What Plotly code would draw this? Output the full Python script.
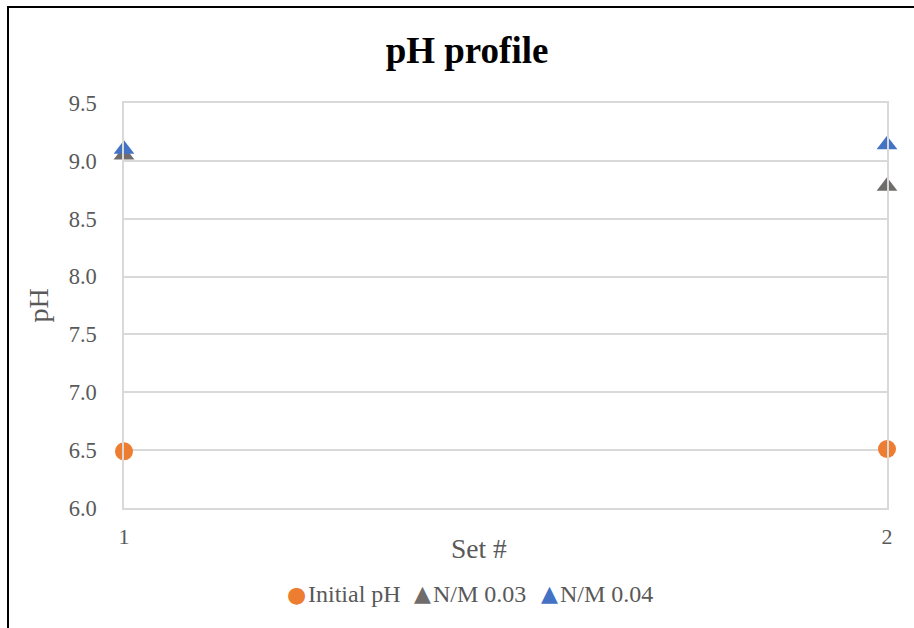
import plotly.graph_objects as go

# Data
sets = [1, 2]
initial_ph = [6.49, 6.51]
nm_003 = [9.05, 8.78]
nm_004 = [9.10, 9.14]
y_ticks = [6.0, 6.5, 7.0, 7.5, 8.0, 8.5, 9.0, 9.5]
series_names = ["Initial pH", "N/M 0.03", "N/M 0.04"]
series_colors = ["#ED7D31", "#706C6C", "#4472C4"]
series_glyphs = ["●", "▲", "▲"]

FONT = "Liberation Serif"
TXT = "#595959"
GRID = "#D9D9D9"

fig = go.Figure()
for vals, name, color, sym in zip(
        [initial_ph, nm_003, nm_004], series_names, series_colors,
        ["circle", "triangle-up", "triangle-up"]):
    fig.add_trace(go.Scatter(x=sets, y=vals, mode="markers", name=name,
                             marker=dict(symbol=sym, size=18, color=color),
                             cliponaxis=False, showlegend=False))

L, R, T, B = 124, 27, 103, 120
W, H = 914, 628
pw, ph = W - L - R, H - T - B

def px_x(x):
    return (x - L) / pw

def px_y(y):
    return (H - B - y) / ph

# Legend row: a coloured glyph followed by the series name
glyph_cx = [296, 422, 549]
text_x = [306, 431, 558]
annotations = []
for gx, tx, name, color, glyph in zip(glyph_cx, text_x, series_names,
                                      series_colors, series_glyphs):
    annotations.append(dict(
        xref="paper", yref="paper", x=px_x(gx), y=px_y(594 if glyph == "●" else 593),
        xanchor="center", yanchor="middle", showarrow=False,
        text=glyph, font=dict(family="DejaVu Sans", size=22 if glyph == "●" else 22,
                              color=color)))
    annotations.append(dict(
        xref="paper", yref="paper", x=px_x(tx), y=px_y(594),
        xanchor="left", yanchor="middle", showarrow=False,
        text=name, font=dict(family=FONT, size=24, color=TXT)))

# Horizontal axis title
annotations.append(dict(xref="paper", yref="paper", x=px_x(479), y=px_y(548),
                        xanchor="center", yanchor="middle", showarrow=False,
                        text="Set #", font=dict(family=FONT, size=27.5, color=TXT)))

fig.update_layout(
    width=W, height=H,
    margin=dict(l=L, r=R, t=T, b=B),
    paper_bgcolor="white", plot_bgcolor="white",
    font=dict(family=FONT, color=TXT, size=22),
    showlegend=False,
    title=dict(text="<b>pH profile</b>", x=467 / W, xanchor="center",
               y=1 - 50 / H, yanchor="middle", yref="container", xref="container",
               font=dict(family=FONT, size=37, color="black")),
    xaxis=dict(range=[1, 2], tickvals=sets, ticktext=[str(s) for s in sets],
               showgrid=True, gridcolor=GRID, gridwidth=1.5, zeroline=False,
               showline=True, linecolor=GRID, linewidth=1.5, mirror=True,
               ticks="", ticklabelstandoff=8,
               tickfont=dict(family=FONT, size=22, color=TXT)),
    yaxis=dict(range=[6.0, 9.5], tickvals=y_ticks, ticktext=[f"{v:.1f}" for v in y_ticks],
               showgrid=True, gridcolor=GRID, gridwidth=1.5, zeroline=False,
               showline=True, linecolor=GRID, linewidth=1.5, mirror=True,
               ticks="", ticklabelstandoff=21,
               tickfont=dict(family=FONT, size=22.5, color=TXT),
               title=dict(text="pH", font=dict(family=FONT, size=28, color=TXT), standoff=12)),
    annotations=annotations,
    shapes=[
        dict(type="line", xref="paper", yref="paper", x0=px_x(8), x1=px_x(8),
             y0=px_y(7), y1=px_y(640), line=dict(color="black", width=2)),
        dict(type="line", xref="paper", yref="paper", x0=px_x(7), x1=px_x(930),
             y0=px_y(7), y1=px_y(7), line=dict(color="black", width=2)),
    ],
)

fig.write_html("out.html")
